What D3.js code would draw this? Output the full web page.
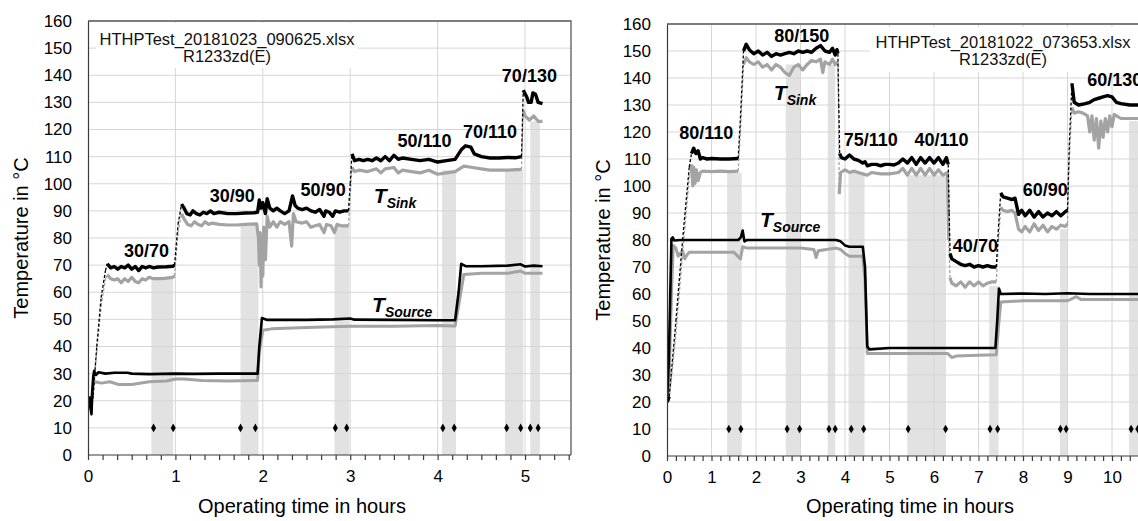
<!DOCTYPE html>
<html>
<head>
<meta charset="utf-8">
<script src="https://cdn.jsdelivr.net/npm/d3@7"></script>
<style>
  body { margin: 0; background: #fff; }
  svg { display: block; font-family: "Liberation Sans", Arial, sans-serif; }
</style>
</head>
<body>
<div id="chart"></div>
<script>
// ---------- data: [hours, °C] ----------

// left test (20181023)
var leftSinkOut = [[0,20],[0.02,21],[0.04,17],[0.06,22],[0.1,40],[0.15,58],[0.2,68],[0.22,70.5],[0.26,69],[0.3,69.5],[0.34,68.5],[0.38,69.5],[0.42,69],[0.46,70],[0.5,68.5],[0.54,69.5],[0.58,68],[0.62,69.5],[0.66,69],[0.7,69.5],[0.75,69],[0.8,69.3],[0.9,69.4],[0.97,69.6],[0.99,70],[1.03,85],[1.07,92.5],[1.1,91],[1.13,89],[1.17,88.5],[1.2,90],[1.24,89],[1.28,88.5],[1.32,89.5],[1.36,89],[1.4,90],[1.44,89],[1.5,89.5],[1.6,89],[1.7,89],[1.8,89.2],[1.9,89.3],[1.94,89.5],[1.96,94],[1.98,91],[2.0,93],[2.03,89],[2.05,94.5],[2.08,91],[2.12,90],[2.16,91],[2.2,90],[2.25,89],[2.3,90],[2.34,95.5],[2.37,92],[2.4,91],[2.45,90.5],[2.5,91],[2.55,90],[2.6,89.5],[2.65,90.5],[2.7,88],[2.72,90],[2.76,89.5],[2.8,88],[2.83,90],[2.88,89.5],[2.93,90],[2.98,90],[3.0,100],[3.02,111],[3.05,108.5],[3.1,109],[3.15,108.5],[3.2,109],[3.25,108.5],[3.3,109.5],[3.35,108.5],[3.4,110],[3.45,108.5],[3.5,110.5],[3.55,109],[3.6,109.5],[3.7,109],[3.8,108.5],[3.9,109],[4.0,108],[4.1,108.5],[4.2,109],[4.27,112.5],[4.32,114],[4.38,113.5],[4.42,111],[4.5,110],[4.6,109.5],[4.7,109.5],[4.8,109.7],[4.9,109.6],[4.96,110],[4.98,134.5],[5.02,132],[5.04,130],[5.07,130],[5.09,133.5],[5.12,133],[5.15,130],[5.2,129.5]];
var leftSinkIn = [[0,20],[0.05,21],[0.1,38],[0.15,55],[0.2,65],[0.22,66.5],[0.26,65],[0.3,64.5],[0.34,65],[0.38,63.5],[0.42,65],[0.46,64],[0.5,65.5],[0.54,64],[0.58,63.5],[0.62,65],[0.66,64.5],[0.7,65.5],[0.75,65],[0.85,65],[0.97,65.5],[0.99,66],[1.03,82],[1.07,89],[1.1,87],[1.14,85],[1.18,84.5],[1.22,86],[1.26,85],[1.3,84.5],[1.34,86],[1.38,85],[1.42,85.5],[1.5,85],[1.6,84.8],[1.7,84.8],[1.8,85],[1.93,85.2],[1.95,80],[1.96,70],[1.97,82],[1.98,62],[1.99,78],[2.0,66],[2.01,84],[2.03,72],[2.05,88],[2.08,84],[2.12,86],[2.16,84],[2.2,86],[2.25,85],[2.3,86],[2.33,77],[2.35,89],[2.38,86],[2.45,85.5],[2.5,86],[2.55,84],[2.6,84.5],[2.65,85],[2.7,82],[2.73,85],[2.78,84.5],[2.82,82],[2.85,85],[2.9,84.5],[2.98,84.5],[3.0,95],[3.02,106],[3.05,104.5],[3.1,105],[3.2,104.5],[3.3,105.5],[3.35,104],[3.4,105.5],[3.5,106],[3.55,104],[3.6,105],[3.7,104.5],[3.8,104],[3.9,105],[4.0,103.5],[4.1,104],[4.2,104.5],[4.3,106.5],[4.4,106],[4.5,105.5],[4.6,105],[4.8,105],[4.96,105.3],[4.98,127],[5.0,125],[5.05,123.5],[5.1,125],[5.15,123],[5.2,123]];
var leftSourceIn = [[0,20],[0.02,19],[0.04,15],[0.05,24],[0.06,29],[0.07,31],[0.09,29.5],[0.12,30.5],[0.2,30],[0.3,30.3],[0.45,30.3],[0.5,30],[0.7,29.8],[1.0,30],[1.2,29.9],[1.5,30],[1.94,30],[1.96,40],[1.99,50.5],[2.05,49.8],[2.5,49.8],[2.8,50],[3.0,50.3],[3.05,49.9],[3.5,49.8],[4.0,49.7],[4.2,49.7],[4.24,60],[4.27,70.5],[4.32,69.6],[4.5,69.6],[4.8,69.8],[4.95,70.3],[5.0,69.5],[5.1,69.8],[5.2,69.6]];
var leftSourceOut = [[0,20],[0.04,21],[0.06,26],[0.08,27],[0.15,26.5],[0.25,27],[0.35,26],[0.5,26],[0.7,27],[0.9,27.3],[1.0,28],[1.1,28],[1.3,27.5],[1.6,27.3],[1.94,27.5],[1.96,38],[2.0,46],[2.1,46.5],[2.5,47],[3.0,47.5],[3.5,47.5],[4.0,47.7],[4.2,47.6],[4.25,57],[4.3,66.5],[4.5,67],[4.8,67],[4.95,67.8],[5.0,67],[5.2,67]];
// evaluation windows: [from h, to h, top °C]
var leftBands = [[0.725,0.975,65],[1.745,1.95,85],[2.82,2.99,85],[4.05,4.21,105],[4.77,4.98,105],[5.06,5.17,123]];
var leftMarks = [0.75,0.975,1.745,1.915,2.83,2.96,4.06,4.19,4.79,4.95,5.06,5.15];
// set point changes of the sink (drawn as thin trace)
var leftSteps = [[0.04,0.22],[0.98,1.07],[2.97,3.02],[4.95,4.98]];
var leftLabels = [["30/70",0.67,73],["30/90",1.65,93.4],["50/90",2.69,95.5],["50/110",3.85,113.7],["70/110",4.6,117],["70/130",5.05,137.6]];
var leftFile = ["HTHPTest_20181023_090625.xlsx", "R1233zd(E)"];

// right test (20181022)
var rightSinkOut = [[0,20],[0.05,22],[0.2,50],[0.35,80],[0.5,107],[0.55,112],[0.6,114],[0.65,112],[0.7,113],[0.75,110],[0.8,110.5],[0.9,110],[1.0,110.2],[1.2,110],[1.4,110],[1.6,110.2],[1.65,125],[1.72,150],[1.78,152.5],[1.85,150.5],[1.95,149],[2.05,150],[2.15,148.5],[2.25,149.5],[2.35,148],[2.45,149],[2.55,148.5],[2.65,149],[2.75,149.5],[2.85,149],[2.95,150],[3.05,149.5],[3.15,150],[3.25,149.5],[3.35,151],[3.45,152],[3.55,150],[3.65,149.5],[3.72,151],[3.78,148.5],[3.82,150.5],[3.84,149],[3.86,130],[3.88,112],[3.92,110.5],[4.0,110],[4.1,111.5],[4.2,110],[4.3,109.5],[4.4,108.5],[4.45,109],[4.5,107.5],[4.6,108],[4.7,108],[4.8,107.5],[4.9,108],[5.0,108],[5.1,107.8],[5.2,108.5],[5.3,110],[5.4,108.5],[5.5,110.5],[5.6,108],[5.7,110.5],[5.8,108.5],[5.9,110.5],[6.0,108.5],[6.1,110.5],[6.2,108],[6.28,110.5],[6.32,108],[6.34,90],[6.36,75],[6.4,73],[6.5,72],[6.6,71],[6.7,70.5],[6.8,71],[6.9,70],[7.0,70.5],[7.1,70],[7.2,70.5],[7.3,70],[7.4,70],[7.45,85],[7.5,97.5],[7.55,96],[7.65,95.5],[7.75,95],[7.82,95.5],[7.9,89.5],[7.97,91],[8.05,89],[8.15,91],[8.25,88.5],[8.35,90.5],[8.45,88.5],[8.55,90],[8.65,89],[8.75,90.5],[8.85,89],[8.95,90.5],[9.0,91],[9.04,115],[9.1,138],[9.15,131],[9.25,130],[9.4,130.5],[9.5,131],[9.6,132],[9.7,132.5],[9.8,133],[9.9,133.5],[10.0,133],[10.1,131],[10.2,130.5],[10.4,130],[10.6,130]];
var rightSinkIn = [[0,20],[0.05,21],[0.2,45],[0.35,75],[0.5,103],[0.55,108],[0.58,100],[0.6,107],[0.63,101],[0.66,106],[0.7,102],[0.75,105],[0.8,105.5],[1.0,105.3],[1.2,105.5],[1.4,105.3],[1.6,105.5],[1.65,120],[1.72,145],[1.78,147.5],[1.85,146],[1.95,145],[2.05,146],[2.15,144],[2.25,145],[2.35,143],[2.45,145],[2.55,144],[2.65,142],[2.75,141],[2.85,144],[2.95,145],[3.05,143],[3.15,145],[3.25,146.5],[3.35,146],[3.45,147],[3.5,142],[3.55,146],[3.65,145],[3.72,147],[3.78,145],[3.84,146],[3.85,135],[3.86,120],[3.87,97],[3.9,105],[4.0,106],[4.1,105],[4.2,105.5],[4.3,105],[4.4,104.5],[4.5,104],[4.6,105],[4.8,104.5],[5.0,104.5],[5.2,105],[5.3,106.5],[5.4,104],[5.5,106.5],[5.6,104],[5.7,106.5],[5.8,104],[5.9,106.5],[6.0,104],[6.1,106],[6.2,104],[6.3,105],[6.33,80],[6.36,66],[6.4,64],[6.5,63],[6.6,64.5],[6.7,62.5],[6.8,64.5],[6.9,63],[7.0,64.5],[7.1,63],[7.2,64],[7.3,64.5],[7.4,64.5],[7.45,80],[7.5,92],[7.55,91],[7.65,90.5],[7.75,91],[7.82,90],[7.9,84],[7.97,83],[8.05,85],[8.15,83],[8.25,86],[8.35,83.5],[8.45,85.5],[8.55,83],[8.65,85],[8.75,84],[8.85,85.5],[8.95,85],[9.0,86],[9.04,110],[9.1,129],[9.15,127],[9.25,127.5],[9.35,127],[9.45,126],[9.5,120],[9.55,126],[9.6,117],[9.65,125],[9.7,114],[9.75,124],[9.8,118],[9.85,125],[9.9,120],[9.95,126],[10.0,122],[10.05,126.5],[10.2,125],[10.4,125],[10.6,125]];
var rightSourceIn = [[0,20],[0.04,35],[0.08,65],[0.1,80.5],[0.13,81],[0.16,79.8],[0.3,80],[0.6,80],[1.0,80],[1.4,80],[1.6,80],[1.66,81],[1.7,83.5],[1.74,79.5],[1.8,80],[2.2,80],[2.6,80],[3.0,80],[3.4,80],[3.8,80],[3.9,79.5],[4.0,78],[4.1,77.5],[4.4,77.5],[4.45,70],[4.5,40.5],[4.55,39.5],[5.0,40],[5.5,40],[6.0,40],[6.4,40],[7.0,40],[7.38,40],[7.42,50],[7.46,62],[7.5,60],[8.0,60.2],[8.5,60],[9.0,60.3],[9.5,60],[10.0,60],[10.6,60]];
var rightSourceOut = [[0,20],[0.05,30],[0.1,60],[0.14,78],[0.2,77],[0.25,74],[0.3,75],[0.35,76],[0.4,73],[0.45,74.5],[0.5,75.5],[1.0,75.5],[1.5,75.5],[1.65,73],[1.7,77.5],[1.8,77],[2.2,77],[2.6,77],[3.0,77],[3.3,76.5],[3.35,73.5],[3.4,76],[3.8,77],[3.9,76.5],[4.0,75],[4.1,74],[4.4,74],[4.45,65],[4.5,38],[5.0,38],[5.5,38],[6.0,38],[6.3,38],[6.4,36.5],[6.5,37],[7.0,37.3],[7.4,37.5],[7.45,48],[7.5,57],[8.0,57.5],[8.5,57.5],[9.0,57.5],[9.2,59],[9.3,58],[10.0,58],[10.6,58]];
var rightBands = [[1.35,1.68,105],[2.67,3.0,145],[3.61,3.78,145],[4.08,4.44,105],[5.4,6.27,104],[7.24,7.45,63],[8.83,9.0,84],[10.38,10.7,124]];
var rightMarks = [1.39,1.66,2.7,2.98,3.64,3.78,4.14,4.42,5.42,6.26,7.26,7.43,8.84,8.97,10.43,10.58];
var rightSteps = [[0.04,0.55],[1.6,1.72],[3.84,3.88],[6.32,6.36],[7.4,7.5],[9.0,9.1]];
var rightLabels = [["80/110",0.88,117.3],["80/150",3.03,153.4],["75/110",4.58,115],["40/110",6.17,115],["40/70",6.93,75.7],["60/90",8.5,96.3],["60/130",10.06,137]];
var rightFile = ["HTHPTest_20181022_073653.xlsx", "R1233zd(E)"];

var yTicks = [0,10,20,30,40,50,60,70,80,90,100,110,120,130,140,150,160];
var leftHours = [0,1,2,3,4,5];
var rightHours = [0,1,2,3,4,5,6,7,8,9,10];

// ---------- layout ----------
var chartInfo = { width: 1138, height: 521, divId: "#chart" };

var panels = [
  {
    plot: { left: 88, right: 571, top: 21, bottom: 455 },
    xMax: 5.526, minorStep: 1 / 6, minorMax: 5.5, hours: leftHours,
    sinkOut: leftSinkOut, sinkIn: leftSinkIn, srcIn: leftSourceIn, srcOut: leftSourceOut,
    bands: leftBands, marks: leftMarks, steps: leftSteps, labels: leftLabels, file: leftFile,
    fileBox: { x: 96, y: 23, w: 262, h: 45 }, fileX: 227, fileY: [45, 62],
    sinkLab: [3.27, 92.9], srcLab: [3.25, 52.8],
    yTitleX: 21, xTitleX: 302
  },
  {
    plot: { left: 667, right: 1178.75, top: 24, bottom: 456 },
    xMax: 11.5, minorStep: 0.2, minorMax: 11.4, hours: rightHours,
    sinkOut: rightSinkOut, sinkIn: rightSinkIn, srcIn: rightSourceIn, srcOut: rightSourceOut,
    bands: rightBands, marks: rightMarks, steps: rightSteps, labels: rightLabels, file: rightFile,
    fileBox: { x: 870, y: 27, w: 280, h: 45 }, fileX: 1003, fileY: [48, 65],
    sinkLab: [2.4, 131.9], srcLab: [2.09, 84.9],
    yTitleX: 603, xTitleX: 910
  }
];

var svg = d3.select(chartInfo.divId).append("svg")
  .attr("width", chartInfo.width)
  .attr("height", chartInfo.height);

var GREY = "#a3a3a3";

function drawPanel(p, idx) {
  var x = d3.scaleLinear().domain([0, p.xMax]).range([p.plot.left, p.plot.right]);
  var y = d3.scaleLinear().domain([0, 160]).range([p.plot.bottom, p.plot.top]);

  var g = svg.append("g").attr("class", "panel-" + idx);

  var clipId = "clip" + idx;
  g.append("clipPath").attr("id", clipId)
    .append("rect")
    .attr("x", p.plot.left).attr("y", p.plot.top - 6)
    .attr("width", p.plot.right - p.plot.left).attr("height", p.plot.bottom - p.plot.top + 6);

  // shaded evaluation windows (columns up to the sink level)
  g.selectAll(".band").data(p.bands).enter().append("rect")
    .attr("class", "band")
    .attr("x", function(d) { return x(d[0]); })
    .attr("y", function(d) { return y(d[2]); })
    .attr("width", function(d) { return x(d[1]) - x(d[0]); })
    .attr("height", function(d) { return y(0) - y(d[2]); })
    .style("fill", "#e2e2e2");

  // grid
  g.selectAll(".hgrid").data(yTicks.slice(1)).enter().append("line")
    .attr("x1", p.plot.left).attr("x2", p.plot.right)
    .attr("y1", function(d) { return y(d); }).attr("y2", function(d) { return y(d); })
    .style("stroke", "#d6d6d6").style("stroke-width", 1);
  g.selectAll(".vgrid").data(p.hours.slice(1)).enter().append("line")
    .attr("y1", p.plot.top).attr("y2", p.plot.bottom)
    .attr("x1", function(d) { return x(d); }).attr("x2", function(d) { return x(d); })
    .style("stroke", "#d6d6d6").style("stroke-width", 1);

  // file name box (white background hides the grid)
  g.append("rect")
    .attr("x", p.fileBox.x).attr("y", p.fileBox.y)
    .attr("width", p.fileBox.w).attr("height", p.fileBox.h)
    .style("fill", "#fff");
  p.file.forEach(function(t, i) {
    g.append("text")
      .attr("x", p.fileX).attr("y", p.fileY[i])
      .attr("text-anchor", "middle")
      .style("font-size", "16.5px")
      .style("fill", "#111")
      .text(t);
  });

  var line = d3.line()
    .x(function(d) { return x(d[0]); })
    .y(function(d) { return y(d[1]); });

  var lines = g.append("g").attr("clip-path", "url(#" + clipId + ")");

  function inStep(a, b) {
    return p.steps.some(function(s) { return a[0] >= s[0] - 1e-9 && b[0] <= s[1] + 1e-9; });
  }

  // split a series into steady runs (thick) and set point jumps (thin, dotted)
  function drawSeries(data, color, width, thinJumps) {
    var runs = [[data[0]]], jumps = [];
    for (var i = 1; i < data.length; i++) {
      var a = data[i - 1], b = data[i];
      if (thinJumps && inStep(a, b)) {
        jumps.push([a, b]);
        runs.push([b]);
      } else {
        runs[runs.length - 1].push(b);
      }
    }
    jumps.forEach(function(j) {
      lines.append("path").attr("d", line(j))
        .style("fill", "none").style("stroke", color)
        .style("stroke-width", 1.3).style("stroke-dasharray", "3,2");
    });
    runs.filter(function(r) { return r.length > 1; }).forEach(function(r) {
      lines.append("path").attr("d", line(r))
        .style("fill", "none").style("stroke", color)
        .style("stroke-width", width)
        .style("stroke-linejoin", "round");
    });
  }

  drawSeries(p.srcOut, GREY, 3, false);
  drawSeries(p.sinkIn, GREY, 3.2, true);
  drawSeries(p.srcIn, "#000", 2.6, false);
  drawSeries(p.sinkOut, "#000", 3.4, true);

  // steady state markers
  g.selectAll(".mark").data(p.marks).enter().append("path")
    .attr("class", "mark")
    .attr("d", d3.symbol().type(d3.symbolDiamond).size(22))
    .attr("transform", function(d) { return "translate(" + x(d) + "," + y(10) + ")"; })
    .style("fill", "#000");

  // operating point labels
  g.selectAll(".oplab").data(p.labels).enter().append("text")
    .attr("x", function(d) { return x(d[1]); })
    .attr("y", function(d) { return y(d[2]); })
    .attr("text-anchor", "middle")
    .style("font-size", "18px").style("font-weight", "bold")
    .text(function(d) { return d[0]; });

  function tLabel(pos, sub) {
    var t = g.append("text")
      .attr("x", x(pos[0])).attr("y", y(pos[1]))
      .style("font-weight", "bold").style("font-style", "italic");
    t.append("tspan").style("font-size", "21px").text("T");
    t.append("tspan").attr("dy", 5).style("font-size", "14px").text(sub);
  }
  tLabel(p.sinkLab, "Sink");
  tLabel(p.srcLab, "Source");

  // frame (top + right)
  g.append("path")
    .attr("d", "M" + p.plot.left + "," + p.plot.top + "H" + p.plot.right + "V" + p.plot.bottom)
    .style("fill", "none").style("stroke", "#5a5a5a").style("stroke-width", 1.3);

  // axes
  var minor = d3.range(0, p.minorMax + 1e-6, p.minorStep);
  var xAxis = g.append("g")
    .attr("transform", "translate(0," + p.plot.bottom + ")")
    .call(d3.axisBottom(x).tickValues(minor).tickSize(5).tickFormat(""));
  xAxis.select(".domain").attr("d", "M" + p.plot.left + ",0H" + p.plot.right);
  var xLab = g.append("g")
    .attr("transform", "translate(0," + p.plot.bottom + ")")
    .call(d3.axisBottom(x).tickValues(p.hours).tickSize(0).tickPadding(15).tickFormat(d3.format("d")));
  xLab.select(".domain").remove();
  xLab.selectAll("text").style("font-size", "17px").attr("font-family", null);

  var yAxis = g.append("g")
    .attr("transform", "translate(" + p.plot.left + ",0)")
    .call(d3.axisLeft(y).tickValues(yTicks).tickSize(0).tickPadding(16));
  yAxis.selectAll("text").style("font-size", "17px").attr("font-family", null);
  [xAxis, yAxis].forEach(function(a) {
    a.selectAll("line, path").style("stroke", "#3a3a3a").style("stroke-width", 1.2);
  });

  // axis titles
  g.append("text")
    .attr("transform", "translate(" + p.yTitleX + "," + ((p.plot.top + p.plot.bottom) / 2) + ")rotate(-90)")
    .attr("text-anchor", "middle").attr("dominant-baseline", "central")
    .style("font-size", "20px")
    .text("Temperature in °C");
  g.append("text")
    .attr("x", p.xTitleX).attr("y", 513)
    .attr("text-anchor", "middle")
    .style("font-size", "20px")
    .text("Operating time in hours");
}

panels.forEach(drawPanel);
</script>
</body>
</html>
